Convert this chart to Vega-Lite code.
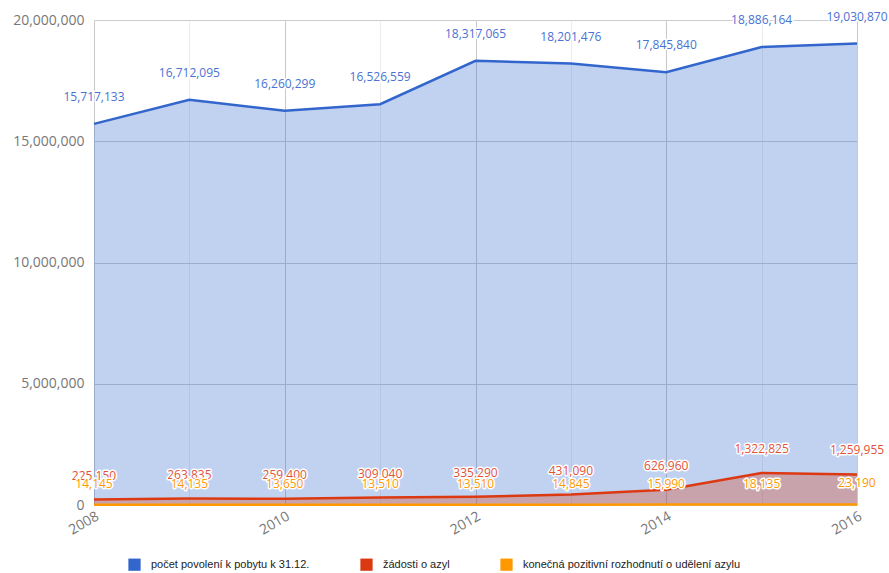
{
  "$schema": "https://vega.github.io/schema/vega-lite/v6.json",
  "width": 763,
  "height": 485,
  "autosize": "none",
  "padding": {"left": 94, "top": 20, "right": 32, "bottom": 68},
  "background": "white",
  "config": {
    "font": "Open Sans",
    "view": {"stroke": null}
  },
  "data": {
    "values": [
      {"year": 2008, "series": "počet povolení k pobytu k 31.12.", "value": 15717133},
      {"year": 2009, "series": "počet povolení k pobytu k 31.12.", "value": 16712095},
      {"year": 2010, "series": "počet povolení k pobytu k 31.12.", "value": 16260299},
      {"year": 2011, "series": "počet povolení k pobytu k 31.12.", "value": 16526559},
      {"year": 2012, "series": "počet povolení k pobytu k 31.12.", "value": 18317065},
      {"year": 2013, "series": "počet povolení k pobytu k 31.12.", "value": 18201476},
      {"year": 2014, "series": "počet povolení k pobytu k 31.12.", "value": 17845840},
      {"year": 2015, "series": "počet povolení k pobytu k 31.12.", "value": 18886164},
      {"year": 2016, "series": "počet povolení k pobytu k 31.12.", "value": 19030870},
      {"year": 2008, "series": "žádosti o azyl", "value": 225150},
      {"year": 2009, "series": "žádosti o azyl", "value": 263835},
      {"year": 2010, "series": "žádosti o azyl", "value": 259400},
      {"year": 2011, "series": "žádosti o azyl", "value": 309040},
      {"year": 2012, "series": "žádosti o azyl", "value": 335290},
      {"year": 2013, "series": "žádosti o azyl", "value": 431090},
      {"year": 2014, "series": "žádosti o azyl", "value": 626960},
      {"year": 2015, "series": "žádosti o azyl", "value": 1322825},
      {"year": 2016, "series": "žádosti o azyl", "value": 1259955},
      {"year": 2008, "series": "konečná pozitivní rozhodnutí o udělení azylu", "value": 14145},
      {"year": 2009, "series": "konečná pozitivní rozhodnutí o udělení azylu", "value": 14135},
      {"year": 2010, "series": "konečná pozitivní rozhodnutí o udělení azylu", "value": 13650},
      {"year": 2011, "series": "konečná pozitivní rozhodnutí o udělení azylu", "value": 13510},
      {"year": 2012, "series": "konečná pozitivní rozhodnutí o udělení azylu", "value": 13510},
      {"year": 2013, "series": "konečná pozitivní rozhodnutí o udělení azylu", "value": 14845},
      {"year": 2014, "series": "konečná pozitivní rozhodnutí o udělení azylu", "value": 15990},
      {"year": 2015, "series": "konečná pozitivní rozhodnutí o udělení azylu", "value": 18135},
      {"year": 2016, "series": "konečná pozitivní rozhodnutí o udělení azylu", "value": 23190}
    ]
  },
  "encoding": {
    "x": {
      "field": "year", "type": "quantitative",
      "scale": {"domain": [2008, 2016], "nice": false, "zero": false},
      "axis": {
        "title": null,
        "values": [2008, 2009, 2010, 2011, 2012, 2013, 2014, 2015, 2016],
        "labelExpr": "datum.value % 2 == 0 ? datum.value : ''",
        "labelAngle": -30, "labelAlign": "right", "labelBaseline": "top",
        "labelFontSize": 14, "labelColor": "#777777", "labelPadding": 4,
        "labelFlush": false, "labelOverlap": false,
        "ticks": false, "domain": false,
        "gridColor": {"condition": {"test": "datum.value % 2 == 0", "value": "#c8c8c8"}, "value": "#ececec"}
      }
    },
    "y": {
      "field": "value", "type": "quantitative", "stack": null,
      "scale": {"domain": [0, 20000000], "nice": false},
      "axis": {
        "title": null, "values": [0, 5000000, 10000000, 15000000, 20000000],
        "labelExpr": "format(datum.value, ',.0f')", "labelFontSize": 14, "labelColor": "#777777",
        "labelPadding": 10, "ticks": false, "domain": false, "gridColor": "#cccccc"
      }
    },
    "color": {
      "field": "series", "type": "nominal",
      "scale": {
        "domain": ["počet povolení k pobytu k 31.12.", "žádosti o azyl", "konečná pozitivní rozhodnutí o udělení azylu"],
        "range": ["#3366cc", "#dc3912", "#ff9900"]
      },
      "legend": {
        "title": null, "orient": "none", "direction": "horizontal",
        "legendX": 34, "legendY": 538,
        "symbolType": "square", "symbolSize": 150, "symbolStrokeWidth": 0, "symbolOpacity": 1,
        "labelFont": "Liberation Sans",
        "labelFontSize": 11, "labelColor": "#222222", "columnPadding": 50, "labelOffset": 10,
        "labelLimit": 0
      }
    }
  },
  "layer": [
    {"mark": {"type": "area", "opacity": 0.3, "line": false}},
    {"mark": {"type": "line", "strokeWidth": 2.5}},
    {
      "transform": [{"filter": "datum.series == 'počet povolení k pobytu k 31.12.'"}],
      "mark": {"type": "text", "dy": -27, "fontSize": 12, "stroke": "white", "strokeWidth": 3, "fill": "white", "strokeJoin": "round"},
      "encoding": {"text": {"field": "value", "format": ","}, "color": {"value": "white"}}
    },
    {
      "transform": [{"filter": "datum.series == 'počet povolení k pobytu k 31.12.'"}],
      "mark": {"type": "text", "dy": -27, "fontSize": 12},
      "encoding": {"text": {"field": "value", "format": ","}, "color": {"value": "#4a72d4"}}
    },
    {
      "transform": [{"filter": "datum.series == 'žádosti o azyl'"}],
      "mark": {"type": "text", "dy": -24, "fontSize": 12, "stroke": "white", "strokeWidth": 3, "fill": "white", "strokeJoin": "round"},
      "encoding": {"text": {"field": "value", "format": ","}, "color": {"value": "white"}}
    },
    {
      "transform": [{"filter": "datum.series == 'žádosti o azyl'"}],
      "mark": {"type": "text", "dy": -24, "fontSize": 12},
      "encoding": {"text": {"field": "value", "format": ","}, "color": {"value": "#e0533a"}}
    },
    {
      "transform": [{"filter": "datum.series == 'konečná pozitivní rozhodnutí o udělení azylu'"}],
      "mark": {"type": "text", "dy": -21, "fontSize": 12, "stroke": "white", "strokeWidth": 3, "fill": "white", "strokeJoin": "round"},
      "encoding": {"text": {"field": "value", "format": ","}, "color": {"value": "white"}}
    },
    {
      "transform": [{"filter": "datum.series == 'konečná pozitivní rozhodnutí o udělení azylu'"}],
      "mark": {"type": "text", "dy": -21, "fontSize": 12},
      "encoding": {"text": {"field": "value", "format": ","}, "color": {"value": "#ff9900"}}
    }
  ]
}
